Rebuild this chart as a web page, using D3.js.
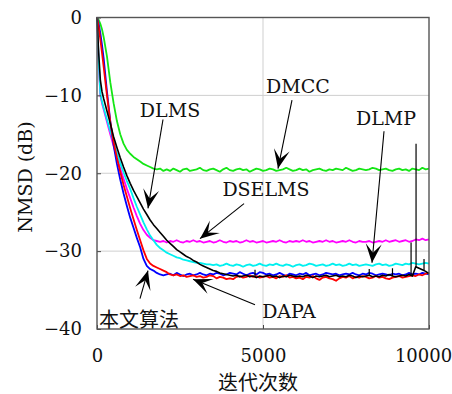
<!DOCTYPE html>
<html>
<head>
<meta charset="utf-8">
<script src="https://cdn.jsdelivr.net/npm/d3@7"></script>
<style>
  body { margin: 0; background: #fff; }
  svg { display: block; }
  .serif { font-family: "DejaVu Serif", "Liberation Serif", serif; }
  .cjk { font-family: "Noto Sans CJK SC", sans-serif; }
</style>
</head>
<body>
<svg width="452" height="394"></svg>
<script>
// iteration grid shared by all curves
const iters = [0, 50, 100, 150].concat(d3.range(200, 10001, 100));

const dmcc = [0, -0.3, -0.8, -1.5, -2.5,
  -5.0, -8.3, -11.0, -13.3, -15.0, -16.2, -17.0, -17.5,
  -17.9, -18.2, -18.5, -18.8, -19.0, -19.2, -19.4, -19.5, -19.4, -19.7,
  -19.5, -19.7, -19.4, -19.6, -19.8, -19.5, -19.4, -19.7, -19.6, -19.5,
  -19.3, -19.6, -19.7, -19.5, -19.4, -19.6, -19.8, -19.5, -19.3, -19.6,
  -19.7, -19.5, -19.4, -19.6, -19.5, -19.8, -19.6, -19.4, -19.5, -19.7,
  -19.6, -19.4, -19.5, -19.7, -19.6, -19.5, -19.3, -19.5, -19.7, -19.6,
  -19.4, -19.6, -19.5, -19.8, -19.6, -19.5, -19.4, -19.6, -19.7, -19.5,
  -19.6, -19.4, -19.5, -19.6, -19.3, -19.5, -19.7, -19.6, -19.4, -19.5,
  -19.6, -19.5, -19.3, -19.4, -19.6, -19.5, -19.4, -19.6, -19.7, -19.5,
  -19.4, -19.6, -19.5, -19.7, -19.4, -19.5, -19.6, -19.3, -19.5, -19.4];

const proposed = [0, -0.8, -2.0, -3.5, -5.2,
  -9.5, -13.3, -16.4, -18.8, -20.8, -22.6, -24.2, -25.7,
  -27.0, -28.3, -29.5, -31.0, -31.9, -32.3, -32.5, -32.8, -33.0, -33.1,
  -33.0, -32.9, -33.1, -32.8, -33.0, -33.2, -33.0, -32.9, -33.1, -33.0,
  -32.8, -33.0, -33.1, -32.9, -33.0, -32.8, -32.9, -33.1, -33.0, -32.8,
  -32.9, -33.0, -32.7, -32.9, -33.1, -32.9, -32.8, -33.0, -32.7, -32.8,
  -33.0, -32.9, -33.1, -33.0, -32.8, -33.0, -33.2, -32.9, -33.0, -33.1,
  -32.9, -33.0, -32.8, -33.1, -33.0, -32.9, -33.1, -33.0, -32.8, -32.9,
  -33.0, -32.9, -33.1, -33.0, -32.9, -33.0, -32.8, -33.0, -33.1, -32.9,
  -33.0, -32.8, -32.9, -33.1, -33.0, -32.9, -33.0, -33.1, -32.9, -33.0,
  -32.9, -33.1, -33.0, -32.8, -33.0, -32.9, -33.0, -32.8, -32.9, -33.0];

const dapa = [0, -1.2, -2.8, -4.5, -6.3,
  -10.0, -13.4, -16.0, -18.0, -19.8, -21.5, -23.0, -24.5,
  -25.9, -27.3, -28.6, -29.9, -31.0, -31.6, -31.9, -32.1, -32.3, -32.5,
  -32.7, -33.0, -33.1, -33.0, -33.2, -33.1, -33.3, -33.2, -33.1, -33.3,
  -33.2, -33.4, -33.3, -33.1, -33.2, -33.5, -33.3, -33.4, -33.6, -33.5,
  -33.6, -33.3, -33.2, -33.4, -33.3, -33.1, -33.3, -33.2, -33.4, -33.3,
  -33.2, -33.4, -33.3, -33.5, -33.2, -33.3, -33.1, -33.4, -33.3, -33.5,
  -33.4, -33.6, -33.3, -33.4, -33.2, -33.5, -33.7, -33.4, -33.3, -33.5,
  -33.6, -33.8, -33.5, -33.3, -33.4, -33.2, -33.5, -33.3, -33.4, -33.2,
  -33.3, -33.5, -33.4, -33.2, -33.4, -33.3, -33.5, -33.6, -33.4, -33.3,
  -33.2, -33.4, -33.3, -33.2, -33.1, -33.2, -33.0, -33.1, -32.9, -32.8];

const dlms = [0, -4.5, -8.0, -9.5, -10.4,
  -12.0, -13.6, -15.3, -16.7, -18.0, -19.2, -20.3, -21.3,
  -22.2, -23.0, -23.8, -24.6, -25.3, -26.0, -26.6, -27.1, -27.6, -28.1,
  -28.6, -29.0, -29.4, -29.8, -30.1, -30.4, -30.7, -30.9, -31.2, -31.4,
  -31.7, -31.9, -32.1, -32.3, -32.5, -32.6, -32.8, -32.9, -33.0, -33.1,
  -33.2, -33.1, -33.3, -33.2, -33.1, -33.3, -33.2, -33.4, -33.2, -33.3,
  -33.2, -33.1, -33.3, -33.2, -33.4, -33.2, -33.3, -33.1, -33.2, -33.3,
  -33.2, -33.3, -33.1, -33.2, -33.4, -33.2, -33.3, -33.2, -33.1, -33.3,
  -33.2, -33.1, -33.3, -33.2, -33.3, -33.1, -33.2, -33.4, -33.2, -33.3,
  -33.2, -33.1, -33.3, -33.2, -33.3, -33.1, -33.2, -33.0, -33.2, -33.3,
  -33.2, -33.1, -33.2, -33.0, -33.2, -32.0, -32.2, -32.4, -32.6, -32.9];

const dlmp = [0, -5.5, -9.8, -10.8, -11.6,
  -13.1, -14.6, -16.0, -17.4, -18.7, -19.9, -21.0, -22.0,
  -23.2, -24.3, -25.3, -26.3, -27.2, -28.0, -28.6, -29.2, -29.6, -29.9,
  -30.2, -30.4, -30.6, -30.8, -30.9, -31.1, -31.2, -31.3, -31.4, -31.5,
  -31.5, -31.6, -31.7, -31.7, -31.8, -31.7, -31.9, -31.8, -31.6, -31.8,
  -31.9, -31.7, -31.8, -32.0, -31.8, -31.7, -31.9, -31.8, -31.6, -31.8,
  -31.9, -31.7, -31.8, -31.6, -31.8, -31.9, -31.7, -31.8, -32.0, -31.8,
  -31.7, -31.9, -31.8, -31.6, -31.7, -31.9, -31.8, -31.7, -31.9, -31.8,
  -31.6, -31.8, -31.7, -31.9, -31.8, -31.6, -31.8, -31.7, -31.9, -31.8,
  -31.7, -31.8, -31.9, -31.7, -31.6, -31.8, -31.7, -31.9, -31.8, -31.6,
  -31.7, -31.8, -31.6, -31.7, -31.5, -31.6, -31.7, -31.6, -31.5, -31.6];

const dselms = [0, -5.8, -10.0, -11.0, -11.8,
  -13.4, -15.0, -16.5, -18.0, -19.4, -20.7, -22.0, -23.2,
  -24.4, -25.5, -26.5, -27.3, -27.9, -28.3, -28.6, -28.7, -28.8, -28.7,
  -28.9, -28.7, -28.8, -28.6, -28.8, -28.9, -28.7, -28.8, -28.6, -28.8,
  -28.7, -28.9, -28.8, -28.7, -28.9, -28.8, -28.6, -28.8, -28.9, -28.7,
  -28.8, -28.7, -28.9, -28.8, -28.6, -28.8, -28.7, -28.9, -28.8, -28.7,
  -28.9, -28.8, -28.7, -28.8, -28.6, -28.8, -28.9, -28.7, -28.8, -28.7,
  -28.8, -28.6, -28.8, -28.7, -28.9, -28.8, -28.7, -28.8, -28.6, -28.8,
  -28.7, -28.9, -28.8, -28.7, -28.8, -28.6, -28.8, -28.9, -28.7, -28.8,
  -28.8, -28.7, -28.9, -28.8, -28.7, -28.8, -28.6, -28.8, -28.7, -28.6,
  -28.8, -28.7, -28.6, -28.8, -28.7, -28.5, -28.6, -28.4, -28.6, -28.5];

// short glitches on the DLMS curve: [iteration, peak dB]
const dlmsSpikes = [[4760, -32.4], [8200, -32.3], [8900, -32.2], [9460, -28.9], [9610, -16.2], [9850, -31.0]];

const xTicks = [0, 5000, 10000];
const yTicks = [0, -10, -20, -30, -40];

// annotations in data coords: label, text centre, line start, arrow tip
const notes = [
  { label: "DMCC",   text: [6054, -8.8],  from: [5873, -10.6], to: [5452, -19.4] },
  { label: "DLMS",   text: [2199, -11.9], from: [1988, -13.1], to: [1536, -24.5] },
  { label: "DSELMS", text: [5090, -22.0], from: [4428, -23.9], to: [3102, -28.4] },
  { label: "DLMP",   text: [8705, -12.9], from: [8645, -14.6], to: [8283, -31.5] },
  { label: "DAPA",   text: [5783, -37.7], from: [4759, -36.9], to: [2892, -33.6] },
  { label: "本文算法", text: [1265, -38.6], from: [1295, -36.1], to: [1536, -32.5] }
];

const series = [
  { name: "DMCC", values: dmcc, color: "#14e614" },
  { name: "DSELMS", values: dselms, color: "#ff00ff" },
  { name: "DLMP", values: dlmp, color: "#00f0f0" },
  { name: "proposed", values: proposed, color: "#0000ff" },
  { name: "DAPA", values: dapa, color: "#ff0000" },
  { name: "DLMS", values: dlms, color: "#000000" }
];

const mLeft = 97, mRight = 429, mTop = 17.5, mBottom = 329;

const svg = d3.select("svg");

const x = d3.scaleLinear().domain([0, 10000]).range([mLeft, mRight]);
const y = d3.scaleLinear().domain([0, -40]).range([mTop, mBottom]);

// grid
svg.append("g").selectAll("line")
  .data([-10, -20, -30])
  .join("line")
  .attr("x1", mLeft).attr("x2", mRight)
  .attr("y1", d => y(d)).attr("y2", d => y(d))
  .attr("stroke", "#cfcfcf").attr("stroke-width", 1);

svg.append("line")
  .attr("x1", x(5000)).attr("x2", x(5000))
  .attr("y1", mTop).attr("y2", mBottom)
  .attr("stroke", "#cfcfcf").attr("stroke-width", 1);

// curves
const line = d3.line()
  .x((d, i) => x(iters[i]))
  .y(d => y(d));

const plot = svg.append("g");
plot.selectAll("path")
  .data(series)
  .join("path")
  .attr("d", d => line(d.values))
  .attr("fill", "none")
  .attr("stroke", d => d.color)
  .attr("stroke-width", d => d.name === "DLMS" ? 1.6 : 1.8)
  .attr("stroke-linejoin", "round");

const dlmsAt = d3.scaleLinear().domain(iters).range(dlms);
plot.selectAll("line.spike")
  .data(dlmsSpikes)
  .join("line")
  .attr("class", "spike")
  .attr("x1", d => x(d[0])).attr("x2", d => x(d[0]))
  .attr("y1", d => y(d[1])).attr("y2", d => y(dlmsAt(d[0])))
  .attr("stroke", "#000").attr("stroke-width", 1.2);

// axes with inward ticks
const yAxis = svg.append("g")
  .attr("transform", `translate(${mLeft},0)`)
  .call(d3.axisLeft(y).tickValues(yTicks).tickSize(-4).tickSizeOuter(0).tickPadding(15));
const xAxis = svg.append("g")
  .attr("transform", `translate(0,${mBottom})`)
  .call(d3.axisBottom(x).tickValues(xTicks).tickSize(-4).tickSizeOuter(0).tickPadding(20).tickFormat(d3.format("d")));

[yAxis, xAxis].forEach(g => {
  g.attr("font-family", null).attr("font-size", null);
  g.select(".domain").remove();
  g.selectAll(".tick line").attr("stroke", "#444");
  g.selectAll("text").attr("class", "serif").style("font-size", "18px").attr("fill", "#111");
});
// keep the last label inside the page
xAxis.selectAll(".tick text").filter(d => d === 10000).attr("dx", -6);

// frame
svg.append("rect")
  .attr("x", mLeft).attr("y", mTop)
  .attr("width", mRight - mLeft).attr("height", mBottom - mTop)
  .attr("fill", "none").attr("stroke", "#555").attr("stroke-width", 1.4);

// axis titles
svg.append("text")
  .attr("class", "serif")
  .attr("transform", `translate(25,177) rotate(-90)`)
  .attr("text-anchor", "middle").attr("dominant-baseline", "central")
  .style("font-size", "19px").attr("fill", "#111")
  .text("NMSD (dB)");

svg.append("text")
  .attr("class", "cjk")
  .attr("x", 258).attr("y", 381)
  .attr("text-anchor", "middle").attr("dominant-baseline", "central")
  .style("font-size", "20px").attr("fill", "#111")
  .text("迭代次数");

// annotation arrows
const ann = svg.append("g");
notes.forEach(n => {
  const x0 = x(n.from[0]), y0 = y(n.from[1]);
  const x1 = x(n.to[0]), y1 = y(n.to[1]);
  const ang = Math.atan2(y1 - y0, x1 - x0) * 180 / Math.PI;
  ann.append("line")
    .attr("x1", x0).attr("y1", y0).attr("x2", x1).attr("y2", y1)
    .attr("stroke", "#000").attr("stroke-width", 1.1);
  ann.append("path")
    .attr("d", "M0,0 L-19,-8 L-10,0 L-19,8 Z")
    .attr("transform", `translate(${x1},${y1}) rotate(${ang})`)
    .attr("fill", "#000");
  const isCjk = /[\u4e00-\u9fff]/.test(n.label);
  ann.append("text")
    .attr("class", isCjk ? "cjk" : "serif")
    .attr("x", x(n.text[0])).attr("y", y(n.text[1]))
    .attr("text-anchor", "middle").attr("dominant-baseline", "central")
    .style("font-size", isCjk ? "20px" : "19px")
    .attr("fill", "#111")
    .text(n.label);
});
</script>
</body>
</html>
